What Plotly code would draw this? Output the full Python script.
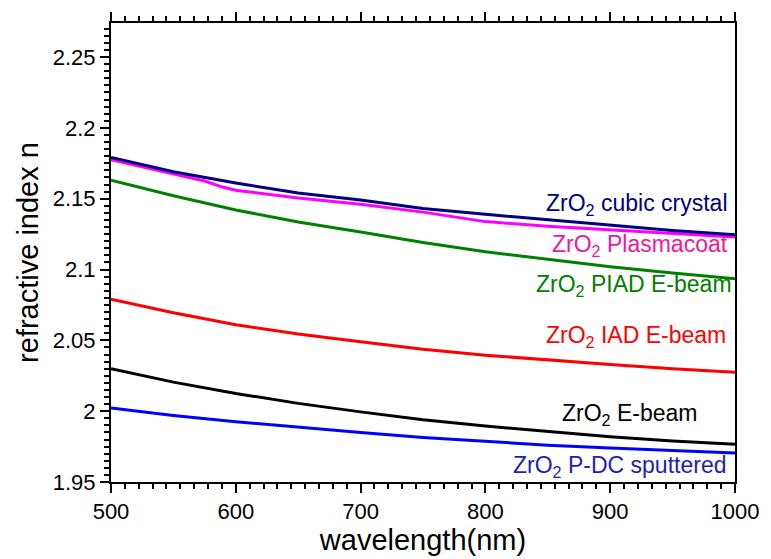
import plotly.graph_objects as go

# ---------------- data ----------------
wavelength = [500, 550, 600, 650, 700, 750, 800, 850, 900, 950, 1000]

n_cubic = [2.179, 2.169, 2.161, 2.154, 2.149, 2.143, 2.139, 2.135, 2.131, 2.1275, 2.1245]

wavelength_plasma = [500, 550, 575, 590, 600, 650, 700, 750, 770, 790, 800, 850, 900, 950, 1000]
n_plasmacoat = [2.1775, 2.1675, 2.1625, 2.1580, 2.1560, 2.1505, 2.1460, 2.1405, 2.1380,
                2.1350, 2.1338, 2.1305, 2.1280, 2.1255, 2.1230]

n_piad = [2.163, 2.152, 2.142, 2.1335, 2.1265, 2.119, 2.1125, 2.107, 2.102, 2.0975, 2.0935]
n_iad = [2.079, 2.0695, 2.061, 2.0545, 2.049, 2.0437, 2.0395, 2.036, 2.033, 2.030, 2.0275]
n_ebeam = [2.030, 2.0205, 2.0125, 2.0055, 1.9995, 1.994, 1.9895, 1.9855, 1.982, 1.979, 1.9767]
n_pdc = [2.0023, 1.997, 1.9925, 1.9885, 1.985, 1.9815, 1.9785, 1.976, 1.974, 1.972, 1.9705]

x_tick_vals = [500, 600, 700, 800, 900, 1000]
x_tick_text = ["500", "600", "700", "800", "900", "1000"]
y_tick_vals = [1.95, 2.0, 2.05, 2.1, 2.15, 2.2, 2.25]
y_tick_text = ["1.95", "2", "2.05", "2.1", "2.15", "2.2", "2.25"]

labels = ["ZrO<sub>2</sub> cubic crystal", "ZrO<sub>2</sub> Plasmacoat",
          "ZrO<sub>2</sub> PIAD E-beam", "ZrO<sub>2</sub> IAD E-beam",
          "ZrO<sub>2</sub> E-beam", "ZrO<sub>2</sub> P-DC sputtered"]
label_x = [996, 996, 999, 994, 972, 994]
label_y = [2.146, 2.117, 2.089, 2.053, 1.998, 1.961]
label_colors = ["#000080", "#F0189A", "#008000", "#FF0000", "#000000", "#1F1FB0"]

# ---------------- figure ----------------
FONT = "Arial, 'Liberation Sans', sans-serif"
fig = go.Figure()

series = [
    (wavelength, n_pdc, "#0000FF"),
    (wavelength, n_ebeam, "#000000"),
    (wavelength, n_iad, "#FF0000"),
    (wavelength, n_piad, "#008000"),
    (wavelength_plasma, n_plasmacoat, "#FF00FF"),
    (wavelength, n_cubic, "#000080"),
]
for xs, ys, c in series:
    fig.add_trace(go.Scatter(x=xs, y=ys, mode="lines",
                             line=dict(color=c, width=3), showlegend=False,
                             hoverinfo="skip"))

for t, x, y, c in zip(labels, label_x, label_y, label_colors):
    fig.add_annotation(x=x, y=y, xref="x", yref="y", text=t, showarrow=False,
                       xanchor="right", yanchor="middle",
                       font=dict(family=FONT, size=23, color=c))

fig.update_layout(
    width=771, height=559,
    margin=dict(l=111, r=28, t=18, b=73),
    paper_bgcolor="white", plot_bgcolor="white",
    font=dict(family=FONT, color="black"),
    xaxis=dict(
        range=[500, 1000], tickmode="array", tickvals=x_tick_vals, ticktext=x_tick_text,
        ticks="outside", ticklen=9, tickwidth=2, tickcolor="black",
        showline=True, linewidth=2, linecolor="black", mirror="ticks",
        showgrid=False, zeroline=False,
        tickfont=dict(family=FONT, size=22, color="black"),
        minor=dict(dtick=100 / 9, tick0=500, ticks="outside", ticklen=5,
                   tickwidth=1.5, tickcolor="black", showgrid=False),
        title=dict(text="wavelength(nm)", font=dict(family=FONT, size=29, color="black"),
                   standoff=2),
    ),
    yaxis=dict(
        range=[1.95, 2.274], tickmode="array", tickvals=y_tick_vals, ticktext=y_tick_text,
        ticks="outside", ticklen=9, tickwidth=2, tickcolor="black",
        showline=True, linewidth=2, linecolor="black", mirror=True,
        showgrid=False, zeroline=False,
        tickfont=dict(family=FONT, size=22, color="black"),
        minor=dict(dtick=0.005, tick0=1.95, ticks="outside", ticklen=5,
                   tickwidth=1.5, tickcolor="black", showgrid=False),
        title=dict(text="refractive index n", font=dict(family=FONT, size=29, color="black"),
                   standoff=6),
    ),
)

fig.write_html("out.html")
